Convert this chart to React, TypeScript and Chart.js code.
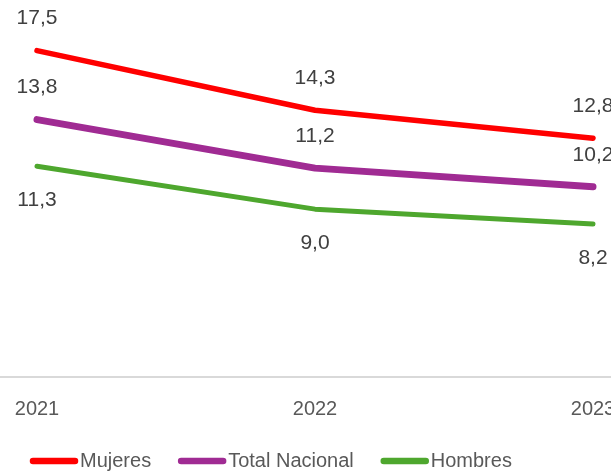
import React, { useEffect, useRef } from "react";
import { Chart, registerables } from "chart.js";

Chart.register(...registerables);

const categories = ["2021", "2022", "2023"];
const mujeres = [17.5, 14.3, 12.8];
const totalNacional = [13.8, 11.2, 10.2];
const hombres = [11.3, 9.0, 8.2];
const seriesNames = ["Mujeres", "Total Nacional", "Hombres"];
const seriesColors = ["#FF0000", "#A02B93", "#4EA72E"];
const seriesWidths = [5.5, 7, 5];
const labelOffsets = [-32, -32, 34];

const SHIFT = 102;
const CANVAS_W = 834;
const CANVAS_H = 472;
const FONT = "'Liberation Sans', Arial, sans-serif";

const fmt = (v: number) => v.toFixed(1).replace(".", ",");

const dataLabelsPlugin = {
  id: "dataLabelsCustom",
  afterDatasetsDraw(chart: any) {
    const ctx = chart.ctx;
    ctx.save();
    ctx.font = `21px ${FONT}`;
    ctx.fillStyle = "#404040";
    ctx.textAlign = "center";
    ctx.textBaseline = "middle";
    chart.data.datasets.forEach((ds: any, di: number) => {
      const meta = chart.getDatasetMeta(di);
      meta.data.forEach((pt: any, i: number) => {
        ctx.fillText(fmt(ds.data[i]), pt.x, pt.y + labelOffsets[di]);
      });
    });
    ctx.restore();
  },
};

const legendPlugin = {
  id: "legendCustom",
  afterDraw(chart: any) {
    const ctx = chart.ctx;
    ctx.save();
    ctx.font = `20px ${FONT}`;
    ctx.textBaseline = "middle";
    ctx.textAlign = "left";
    const y = 461;
    let x = SHIFT + 30;
    seriesNames.forEach((name, i) => {
      ctx.strokeStyle = seriesColors[i];
      ctx.lineWidth = 6.5;
      ctx.lineCap = "round";
      ctx.beginPath();
      ctx.moveTo(x + 3, y);
      ctx.lineTo(x + 45, y);
      ctx.stroke();
      x += 50;
      ctx.fillStyle = "#595959";
      ctx.fillText(name, x, y);
      x += ctx.measureText(name).width + 27;
    });
    ctx.restore();
  },
};

export default function App() {
  const ref = useRef<HTMLCanvasElement | null>(null);

  useEffect(() => {
    if (!ref.current) return;
    const series = [mujeres, totalNacional, hombres];
    const chart = new Chart(ref.current, {
      type: "line",
      data: {
        labels: categories,
        datasets: series.map((d, i) => ({
          label: seriesNames[i],
          data: d,
          borderColor: seriesColors[i],
          backgroundColor: seriesColors[i],
          borderWidth: seriesWidths[i],
          borderCapStyle: "round" as const,
          borderJoinStyle: "round" as const,
          pointRadius: 0,
          tension: 0,
        })),
      },
      options: {
        animation: false,
        responsive: false,
        layout: { padding: { top: 4, bottom: 31, left: 0, right: 0 } },
        plugins: {
          legend: { display: false },
          tooltip: { enabled: false },
        },
        scales: {
          x: {
            offset: true,
            grid: { display: false, drawTicks: false },
            border: { display: true, color: "#D9D9D9", width: 2 },
            ticks: {
              color: "#595959",
              font: { size: 20, family: FONT },
              padding: 20,
              maxRotation: 0,
            },
          },
          y: {
            display: false,
            min: 0,
            max: 20,
          },
        },
      },
      plugins: [dataLabelsPlugin, legendPlugin],
    });
    return () => chart.destroy();
  }, []);

  return (
    <div
      style={{
        position: "fixed",
        left: 0,
        top: 0,
        width: 611,
        height: 472,
        overflow: "hidden",
        background: "#fff",
      }}
    >
      <canvas
        ref={ref}
        width={CANVAS_W}
        height={CANVAS_H}
        style={{ position: "absolute", left: -SHIFT, top: 0, display: "block" }}
      />
    </div>
  );
}
